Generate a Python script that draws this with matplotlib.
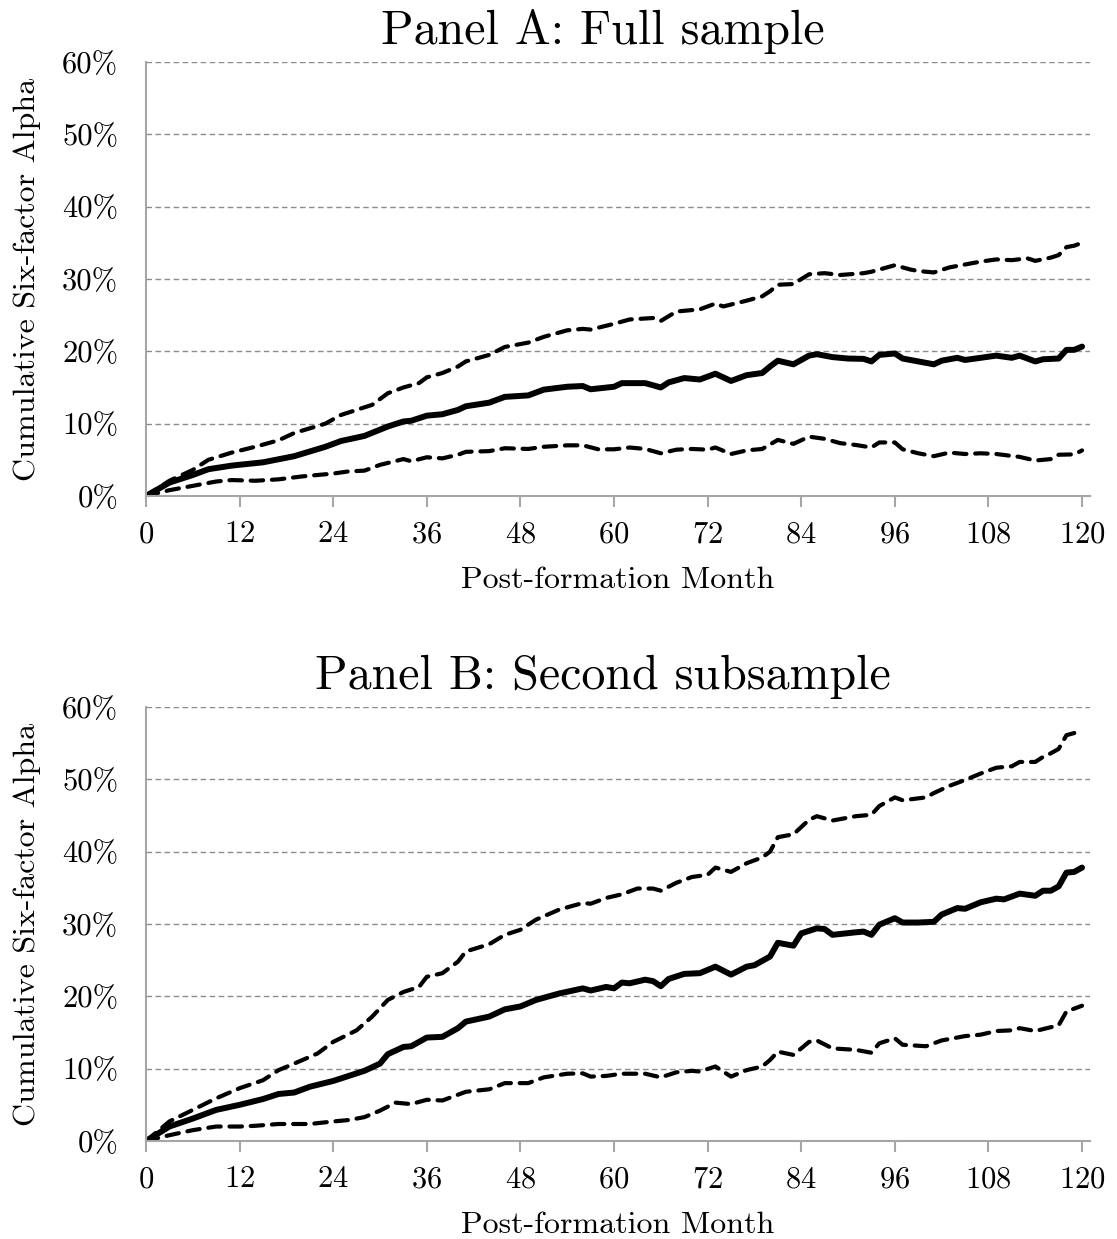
import numpy as np
import matplotlib
matplotlib.use("Agg")
import matplotlib.pyplot as plt
from matplotlib.ticker import FixedLocator, FuncFormatter

plt.rcParams['font.family'] = ['cmr10', 'DejaVu Serif']
plt.rcParams['axes.formatter.use_mathtext'] = True

################### DATA (cumulative alpha, %) ###################

# Panel A: Full sample
a_mid_month = [0, 3, 6, 8, 11, 15, 19, 23, 25, 28, 31, 33, 34, 36, 38, 40, 41, 44, 46, 49, 51, 54, 56, 57,
               60, 61, 64, 66, 67, 69, 71, 73, 75, 77, 79, 80, 81, 83, 85, 86, 88, 90, 92, 93, 94, 96,
               97, 99, 101, 102, 104, 105, 107, 109, 111, 112, 114, 115, 117, 118, 119, 120]
a_mid = [0, 1.85, 2.9, 3.7, 4.2, 4.65, 5.5, 6.8, 7.6, 8.3, 9.6, 10.3, 10.4, 11.1, 11.3, 11.9, 12.4, 12.9,
         13.7, 13.9, 14.7, 15.1, 15.2, 14.75, 15.1, 15.6, 15.6, 15.0, 15.7, 16.3, 16.1, 16.9, 15.9, 16.7,
         17.0, 17.9, 18.7, 18.2, 19.4, 19.6, 19.2, 19.0, 18.95, 18.6, 19.5, 19.7, 19.0, 18.6, 18.2, 18.7,
         19.1, 18.8, 19.1, 19.4, 19.1, 19.4, 18.6, 18.9, 19.0, 20.2, 20.2, 20.65]

a_up_month = [0, 3, 6, 8, 11, 14, 17, 19, 23, 25, 29, 31, 33, 35, 36, 38, 40, 41, 44, 46, 49, 51, 54, 56,
              57, 60, 62, 65, 66, 68, 71, 73, 74, 77, 79, 80, 81, 83, 85, 87, 89, 92, 93, 95, 96, 98, 99,
              101, 103, 105, 107, 109, 111, 113, 114, 116, 117, 118, 119, 120]
a_up = [0, 2.1, 3.6, 5.0, 6.0, 6.8, 7.7, 8.7, 10.0, 11.2, 12.6, 14.2, 15.0, 15.6, 16.4, 17.0, 17.9, 18.6,
        19.5, 20.6, 21.2, 22.0, 22.9, 23.1, 23.0, 23.8, 24.4, 24.6, 24.2, 25.5, 25.8, 26.6, 26.2, 27.0,
        27.6, 28.3, 29.2, 29.3, 30.65, 30.8, 30.55, 30.8, 31.0, 31.6, 31.9, 31.3, 31.1, 30.9, 31.6, 32.0,
        32.4, 32.7, 32.6, 32.85, 32.5, 32.95, 33.3, 34.4, 34.6, 35.0]

a_lo_month = [0, 3, 6, 9, 11, 14, 17, 20, 24, 26, 28, 30, 33, 34, 36, 38, 40, 41, 44, 46, 49, 51, 54, 56,
              58, 60, 62, 64, 66, 68, 70, 72, 73, 75, 77, 79, 81, 83, 85, 87, 89, 91, 93, 94, 96, 97, 99,
              101, 103, 105, 107, 109, 112, 114, 116, 117, 119, 120]
a_lo = [0, 0.8, 1.4, 2.0, 2.2, 2.1, 2.3, 2.7, 3.1, 3.4, 3.5, 4.3, 5.1, 4.8, 5.35, 5.2, 5.7, 6.1, 6.2, 6.6,
        6.5, 6.8, 7.0, 7.0, 6.45, 6.45, 6.7, 6.5, 5.9, 6.4, 6.5, 6.4, 6.7, 5.8, 6.3, 6.5, 7.75, 7.2, 8.2,
        7.9, 7.3, 7.05, 6.7, 7.4, 7.4, 6.45, 5.9, 5.5, 6.0, 5.8, 5.9, 5.8, 5.4, 4.9, 5.1, 5.7, 5.75, 6.3]

# Panel B: Second subsample
b_mid_month = [0, 3, 6, 9, 12, 15, 17, 19, 21, 24, 26, 28, 30, 31, 33, 34, 36, 38, 40, 41, 44, 46, 48, 50,
               53, 56, 57, 59, 60, 61, 62, 64, 65, 66, 67, 69, 71, 73, 75, 77, 78, 80, 81, 83, 84, 86, 87,
               88, 91, 92, 93, 94, 96, 97, 99, 101, 102, 104, 105, 107, 109, 110, 112, 114, 115, 116, 117,
               118, 119, 120]
b_mid = [0, 2.0, 3.1, 4.3, 5.0, 5.8, 6.5, 6.7, 7.5, 8.3, 9.0, 9.7, 10.7, 12.0, 13.0, 13.1, 14.3, 14.4,
         15.6, 16.5, 17.2, 18.2, 18.6, 19.5, 20.4, 21.1, 20.8, 21.3, 21.1, 21.9, 21.8, 22.3, 22.1, 21.4,
         22.4, 23.1, 23.2, 24.1, 23.0, 24.1, 24.3, 25.5, 27.4, 27.0, 28.7, 29.4, 29.3, 28.5, 28.85, 28.95,
         28.5, 29.9, 30.8, 30.2, 30.2, 30.3, 31.3, 32.2, 32.1, 33.0, 33.5, 33.4, 34.2, 33.9, 34.6, 34.6,
         35.2, 37.1, 37.2, 37.8]

b_up_month = [0, 3, 6, 9, 12, 15, 17, 19, 22, 24, 27, 29, 31, 33, 35, 36, 38, 40, 41, 44, 46, 48, 50, 53,
              56, 57, 59, 61, 63, 65, 66, 68, 70, 72, 73, 75, 77, 79, 80, 81, 83, 85, 86, 88, 91, 93, 94,
              96, 97, 100, 101, 103, 105, 107, 109, 111, 112, 114, 115, 116, 117, 118, 119, 120]
b_up = [0, 2.7, 4.3, 5.9, 7.3, 8.4, 9.8, 10.7, 12.1, 13.7, 15.3, 17.2, 19.5, 20.6, 21.3, 22.7, 23.2, 24.8,
        26.2, 27.2, 28.5, 29.2, 30.6, 32.0, 32.9, 32.8, 33.6, 34.1, 34.9, 34.9, 34.6, 35.7, 36.5, 36.8,
        37.8, 37.2, 38.4, 39.2, 40.0, 42.0, 42.4, 44.4, 44.9, 44.3, 44.9, 45.1, 46.3, 47.5, 47.1, 47.5,
        48.1, 49.1, 49.9, 50.8, 51.6, 51.8, 52.4, 52.4, 53.1, 53.6, 54.2, 56.1, 56.4, 56.9]

b_lo_month = [0, 3, 6, 9, 12, 14, 17, 21, 24, 26, 28, 30, 32, 34, 36, 38, 40, 41, 44, 46, 49, 51, 54, 56,
              57, 59, 61, 64, 66, 68, 70, 71, 73, 75, 77, 79, 80, 81, 83, 85, 86, 88, 91, 93, 94, 96, 97,
              100, 102, 105, 107, 109, 111, 112, 114, 117, 118, 120]
b_lo = [0, 0.8, 1.5, 2.0, 2.0, 2.1, 2.35, 2.35, 2.7, 2.9, 3.3, 4.2, 5.3, 5.1, 5.7, 5.6, 6.4, 6.8, 7.15,
        8.0, 8.0, 8.8, 9.3, 9.35, 8.9, 9.0, 9.3, 9.3, 8.8, 9.5, 9.7, 9.6, 10.3, 8.9, 9.8, 10.3, 11.2,
        12.35, 11.9, 13.7, 13.9, 12.8, 12.6, 12.2, 13.5, 14.2, 13.3, 13.1, 13.9, 14.5, 14.7, 15.2, 15.3,
        15.6, 15.2, 16.0, 17.9, 18.7]

panels = [
    ("Panel A: Full sample", (a_mid_month, a_mid), (a_up_month, a_up), (a_lo_month, a_lo)),
    ("Panel B: Second subsample", (b_mid_month, b_mid), (b_up_month, b_up), (b_lo_month, b_lo)),
]

x_ticks = list(range(0, 121, 12))
y_ticks = [0, 10, 20, 30, 40, 50, 60]

################### PLOT ###################

fig = plt.figure(figsize=(11.17, 12.39), dpi=100)
axes_rects = [[0.1307, 0.5997, 0.845, 0.3503],
              [0.1307, 0.0791, 0.845, 0.3503]]

for rect, (title, mid, up, lo) in zip(axes_rects, panels):
    ax = fig.add_axes(rect)
    for m, v in (up, lo):
        ax.plot(m, v, color='black', lw=3.0, linestyle=(0, (3.0, 2.1)),
                dash_capstyle='round', solid_joinstyle='round')
    ax.plot(mid[0], mid[1], color='black', lw=4.3, solid_capstyle='round',
            solid_joinstyle='round')

    ax.set_xlim(0, 121)
    ax.set_ylim(0, 60)
    ax.xaxis.set_major_locator(FixedLocator(x_ticks))
    ax.yaxis.set_major_locator(FixedLocator(y_ticks))
    ax.yaxis.set_major_formatter(FuncFormatter(lambda v, p: '%d%%' % v))
    ax.grid(axis='y', color='#8c8c8c', lw=1.0, linestyle=(0, (4, 2.5)))
    ax.set_axisbelow(True)
    for s in ('top', 'right'):
        ax.spines[s].set_visible(False)
    for s in ('left', 'bottom'):
        ax.spines[s].set_color('#a6a6a6')
        ax.spines[s].set_linewidth(1.5)
    ax.tick_params(axis='x', length=8, width=1.5, color='#a6a6a6', labelsize=22, pad=10)
    ax.tick_params(axis='y', length=0, labelsize=22, pad=20)
    ax.set_title(title, fontsize=34.5, pad=13, x=0.484)
    ax.set_xlabel('Post-formation Month', fontsize=23, labelpad=13)
    ax.set_ylabel('Cumulative Six-factor Alpha', fontsize=23, labelpad=15)

fig.savefig('out.png', dpi=100)
